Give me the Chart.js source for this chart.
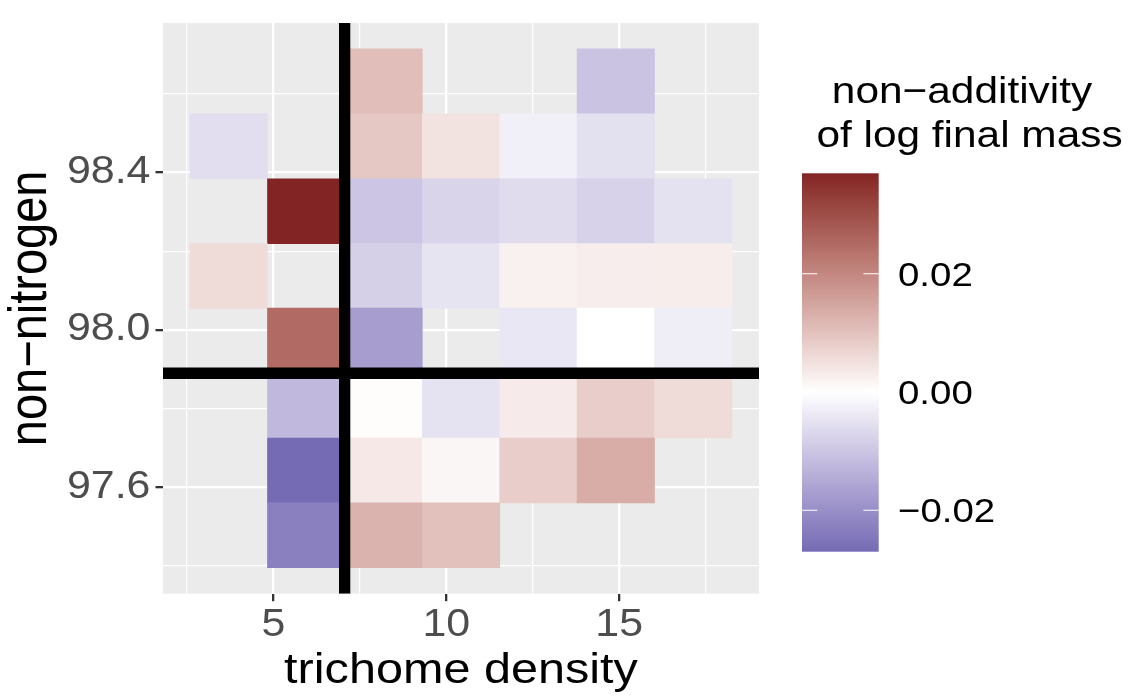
<!DOCTYPE html>
<html>
<head>
<meta charset="utf-8">
<script src="https://cdn.jsdelivr.net/npm/chart.js@4.4.1/dist/chart.umd.min.js"></script>
<style>
  html, body { margin: 0; padding: 0; background: #ffffff; }
  canvas { display: block; }
</style>
</head>
<body>
<canvas id="c" width="1133" height="696" style="width:1133px;height:696px"></canvas>
<script>
// ---------------- data ----------------
// tile centres along x (trichome density)
const trichomeDensity = [3.712, 5.950, 8.188, 10.426, 12.664, 14.902, 17.140];
// tile centres along y (non-nitrogen), top row first
const nonNitrogen = [98.632, 98.467, 98.302, 98.137, 97.973, 97.808, 97.643, 97.478];
const tileWidth = 2.238;
const tileHeight = 0.1649;

// non-additivity of log final mass, one array per non-nitrogen row (top to bottom),
// one entry per trichome-density column (null = no tile)
const nn98_63 = [null, null, 0.0106, null, null, -0.0105, null];
const nn98_47 = [-0.0057, null, 0.0091, 0.0046, -0.0028, -0.0054, null];
const nn98_30 = [null, 0.0370, -0.0101, -0.0075, -0.0061, -0.0078, -0.0052];
const nn98_14 = [0.0057, null, -0.0082, -0.0047, 0.0023, 0.0029, 0.0028];
const nn97_97 = [null, 0.0249, -0.0173, null, -0.0041, 0.0000, -0.0031];
const nn97_81 = [null, -0.0123, 0.0004, -0.0050, 0.0032, 0.0081, 0.0057];
const nn97_64 = [null, -0.0270, 0.0038, 0.0014, 0.0081, 0.0136, null];
const nn97_48 = [null, -0.0229, 0.0125, 0.0102, null, null, null];
const nonAdditivity = [nn98_63, nn98_47, nn98_30, nn98_14, nn97_97, nn97_81, nn97_64, nn97_48];

// reference lines
const vlineX = 7.062;
const hlineY = 97.890;

// ticks
const xTicksMajor = [5, 10, 15];
const xTicksMinor = [2.5, 7.5, 12.5, 17.5];
const yTicksMajor = [97.6, 98.0, 98.4];
const yTicksMinor = [97.4, 97.8, 98.2, 98.6];
const legendTicks = [-0.02, 0.00, 0.02];

// ---------------- derived ----------------
const xLo = Math.min(...trichomeDensity) - tileWidth / 2;
const xHi = Math.max(...trichomeDensity) + tileWidth / 2;
const yLo = Math.min(...nonNitrogen) - tileHeight / 2;
const yHi = Math.max(...nonNitrogen) + tileHeight / 2;
const xMin = xLo - 0.05 * (xHi - xLo), xMax = xHi + 0.05 * (xHi - xLo);
const yMin = yLo - 0.05 * (yHi - yLo), yMax = yHi + 0.05 * (yHi - yLo);

const allValues = nonAdditivity.flat().filter(v => v !== null);
const dataMin = Math.min(...allValues);
const dataMax = Math.max(...allValues);
const maxAbs = Math.max(Math.abs(dataMin), Math.abs(dataMax));

const tiles = [];
nonNitrogen.forEach((yc, r) => {
  trichomeDensity.forEach((xc, c) => {
    const v = nonAdditivity[r][c];
    if (v === null) return;
    tiles.push({ x: xc, y: [yc - tileHeight / 2, yc + tileHeight / 2], v: v });
  });
});

// ---------------- colour scale (diverging, Lab interpolation) ----------------
const LOW = '#3A3A98', MID = '#FFFFFF', HIGH = '#832424';
function hexRgb(h) { return [1, 3, 5].map(i => parseInt(h.substr(i, 2), 16)); }
function toLin(c) { c /= 255; return c <= 0.04045 ? c / 12.92 : Math.pow((c + 0.055) / 1.055, 2.4); }
function toSrgb(c) {
  const v = c <= 0.0031308 ? 12.92 * c : 1.055 * Math.pow(c, 1 / 2.4) - 0.055;
  return Math.round(Math.max(0, Math.min(1, v)) * 255);
}
function rgbToLab(rgb) {
  const [r, g, b] = rgb.map(toLin);
  const X = (0.4124564 * r + 0.3575761 * g + 0.1804375 * b) / 0.95047;
  const Y = (0.2126729 * r + 0.7151522 * g + 0.0721750 * b);
  const Z = (0.0193339 * r + 0.1191920 * g + 0.9503041 * b) / 1.08883;
  const f = t => t > 0.008856 ? Math.cbrt(t) : 7.787 * t + 16 / 116;
  const fx = f(X), fy = f(Y), fz = f(Z);
  return [116 * fy - 16, 500 * (fx - fy), 200 * (fy - fz)];
}
function labToHex(lab) {
  const fy = (lab[0] + 16) / 116, fx = fy + lab[1] / 500, fz = fy - lab[2] / 200;
  const fi = t => (t * t * t > 0.008856) ? t * t * t : (t - 16 / 116) / 7.787;
  const X = 0.95047 * fi(fx), Y = fi(fy), Z = 1.08883 * fi(fz);
  const r = 3.2404542 * X - 1.5371385 * Y - 0.4985314 * Z;
  const g = -0.9692660 * X + 1.8760108 * Y + 0.0415560 * Z;
  const b = 0.0556434 * X - 0.2040259 * Y + 1.0572252 * Z;
  return 'rgb(' + toSrgb(r) + ',' + toSrgb(g) + ',' + toSrgb(b) + ')';
}
const labLow = rgbToLab(hexRgb(LOW)), labMid = rgbToLab(hexRgb(MID)), labHigh = rgbToLab(hexRgb(HIGH));
function mix(a, b, u) { return [0, 1, 2].map(i => a[i] + (b[i] - a[i]) * u); }
function colorFor(v) {
  const t = 0.5 + v / (2 * maxAbs);
  if (t < 0.5) return labToHex(mix(labLow, labMid, t / 0.5));
  return labToHex(mix(labMid, labHigh, (t - 0.5) / 0.5));
}
function fmtLegend(v) {
  const s = Math.abs(v).toFixed(2);
  return v < -1e-12 ? '\u2212' + s : s;
}

// ---------------- text rendering (wide glyphs as in the reference) ----------------
const FONT = '"Liberation Sans", Arial, Helvetica, sans-serif';
const TEXT_STRETCH = 1.13;
const canvas = document.getElementById('c');
const ctx2d = canvas.getContext('2d');
const origFillText = ctx2d.fillText;
ctx2d.fillText = function (text, x, y, maxWidth) {
  const m = this.getTransform();
  const px = m.a * x + m.c * y + m.e;
  const k = TEXT_STRETCH;
  this.save();
  this.setTransform(k * m.a, m.b, k * m.c, m.d, k * m.e + px * (1 - k), m.f);
  if (maxWidth === undefined || maxWidth === null) origFillText.call(this, text, x, y);
  else origFillText.call(this, text, x, y, maxWidth);
  this.restore();
};

// ---------------- plugins ----------------
const panelBackground = {
  id: 'panelBackground',
  beforeDraw(chart) {
    const a = chart.chartArea, g = chart.ctx;
    g.save();
    g.fillStyle = '#EBEBEB';
    g.fillRect(a.left, a.top, a.right - a.left, a.bottom - a.top);
    g.restore();
  }
};

const colourbarLegend = {
  id: 'colourbarLegend',
  afterDraw(chart) {
    const g = chart.ctx;
    const bar = { left: 802, right: 878.7, top: 173.3, bottom: 551.7 };
    const vToY = v => bar.top + (dataMax - v) / (dataMax - dataMin) * (bar.bottom - bar.top);
    g.save();
    const grad = g.createLinearGradient(0, bar.top, 0, bar.bottom);
    const N = 80;
    for (let i = 0; i <= N; i++) {
      const v = dataMax - (i / N) * (dataMax - dataMin);
      grad.addColorStop(i / N, colorFor(v));
    }
    g.fillStyle = grad;
    g.fillRect(bar.left, bar.top, bar.right - bar.left, bar.bottom - bar.top);
    const tl = (bar.right - bar.left) / 5;
    g.strokeStyle = '#FFFFFF';
    g.lineWidth = 1.1;
    legendTicks.forEach(v => {
      const y = vToY(v);
      g.beginPath();
      g.moveTo(bar.left, y); g.lineTo(bar.left + tl, y);
      g.moveTo(bar.right - tl, y); g.lineTo(bar.right, y);
      g.stroke();
    });
    g.fillStyle = '#000000';
    g.font = '34px ' + FONT;
    g.textAlign = 'left';
    g.textBaseline = 'middle';
    legendTicks.forEach(v => g.fillText(fmtLegend(v), 898, vToY(v) + 2.5));
    g.font = '37.5px ' + FONT;
    g.textAlign = 'center';
    g.textBaseline = 'alphabetic';
    g.fillText('non\u2212additivity', 962, 102.5);
    g.fillText('of log final mass', 969.5, 147.3);
    g.restore();
  }
};

// ---------------- chart ----------------
Chart.defaults.font.family = FONT;

const isMajorX = c => c.tick && xTicksMajor.includes(c.tick.value);
const isMajorY = c => c.tick && yTicksMajor.includes(c.tick.value);

new Chart(ctx2d, {
  type: 'bar',
  data: {
    datasets: [
      {
        type: 'line', label: 'vline',
        data: [{ x: vlineX, y: yMin }, { x: vlineX, y: yMax }],
        borderColor: '#000000', borderWidth: 11.3, pointRadius: 0, fill: false, clip: 0, order: 0
      },
      {
        type: 'line', label: 'hline',
        data: [{ x: xMin, y: hlineY }, { x: xMax, y: hlineY }],
        borderColor: '#000000', borderWidth: 11.3, pointRadius: 0, fill: false, clip: 0, order: 0
      },
      {
        type: 'bar', label: 'non-additivity',
        data: tiles,
        backgroundColor: c => (c.raw && c.raw.v !== undefined) ? colorFor(c.raw.v) : '#FFFFFF',
        borderWidth: 0,
        grouped: false,
        barPercentage: 1,
        categoryPercentage: 1,
        order: 1
      }
    ]
  },
  options: {
    responsive: false,
    animation: false,
    devicePixelRatio: 1,
    events: [],
    layout: { padding: { left: 0, right: 374, top: 23, bottom: 0 } },
    plugins: { legend: { display: false }, tooltip: { enabled: false } },
    scales: {
      x: {
        type: 'linear', min: xMin, max: xMax, offset: false, bounds: 'data',
        afterBuildTicks: s => { s.ticks = xTicksMinor.concat(xTicksMajor).sort((a, b) => a - b).map(v => ({ value: v })); },
        afterFit: s => { s.height = 102.3; s.paddingLeft = 0; s.paddingRight = 0; s.paddingTop = 0; s.paddingBottom = 0; },
        ticks: {
          autoSkip: false, maxRotation: 0, minRotation: 0, padding: 5, color: '#4D4D4D',
          font: { size: 38, lineHeight: 1 },
          callback: v => xTicksMajor.includes(v) ? String(v) : ''
        },
        grid: {
          offset: false, color: '#FFFFFF',
          lineWidth: c => isMajorX(c) ? 2.3 : 1.2,
          drawTicks: true, tickLength: 7.5, tickWidth: 2.3,
          tickColor: c => isMajorX(c) ? '#333333' : 'rgba(0,0,0,0)'
        },
        border: { display: false },
        title: { display: true, text: 'trichome density', color: '#000000', font: { size: 43, lineHeight: 1 }, padding: { top: 0, bottom: 3 } }
      },
      y: {
        type: 'linear', min: yMin, max: yMax, beginAtZero: false, bounds: 'data',
        afterBuildTicks: s => { s.ticks = yTicksMinor.concat(yTicksMajor).sort((a, b) => a - b).map(v => ({ value: v })); },
        afterFit: s => { s.width = 163; s.paddingLeft = 0; s.paddingRight = 0; s.paddingTop = 0; s.paddingBottom = 0; },
        ticks: {
          padding: 5, color: '#4D4D4D',
          font: { size: 38, lineHeight: 1 },
          callback: v => yTicksMajor.includes(v) ? v.toFixed(1) : ''
        },
        grid: {
          color: '#FFFFFF',
          lineWidth: c => isMajorY(c) ? 2.3 : 1.2,
          drawTicks: true, tickLength: 7.5, tickWidth: 2.3,
          tickColor: c => isMajorY(c) ? '#333333' : 'rgba(0,0,0,0)'
        },
        border: { display: false },
        title: { display: true, text: 'non\u2212nitrogen', color: '#000000', font: { size: 47, lineHeight: 1 }, padding: { top: 8, bottom: 0 } }
      }
    }
  },
  plugins: [panelBackground, colourbarLegend]
});
</script>
</body>
</html>
